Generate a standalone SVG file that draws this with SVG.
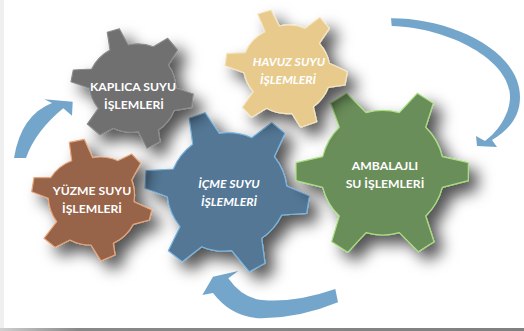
<svg xmlns="http://www.w3.org/2000/svg" width="524" height="331" viewBox="0 0 524 331">
<defs>
<filter id="sh" x="-40%" y="-40%" width="200%" height="200%"><feDropShadow dx="9" dy="9" stdDeviation="7.5" flood-color="#000" flood-opacity="0.68"/></filter>
<linearGradient id="bot" x1="0" x2="1" y1="0" y2="0"><stop offset="0" stop-color="#d0d0d0"/><stop offset="0.15" stop-color="#888"/><stop offset="1" stop-color="#808080"/></linearGradient>
</defs>
<style>
.g{filter:url(#sh);stroke-width:1.2;stroke-linejoin:round}
.t{font-family:"Lato","Open Sans",sans-serif;font-size:12.2px;font-weight:700;fill:#fff;text-anchor:middle}
.i{font-style:italic}
.a{fill:#74a6cc}
</style>
<rect width="524" height="331" fill="#fff"/>
<rect width="4" height="331" fill="#efefef"/>
<rect y="328" width="524" height="3" fill="url(#bot)"/>
<g id="connectors">
<path class="a" d="M14,158Q21,115 52,103L44.3,99.3L72.7,101.7L72,115.7L63.3,108.3Q35.5,131 26,158Z"/>
<path class="a" d="M391,18.3C450,18 520,50 520,97C520,118 508,130 492,140L497,147L477,146L476,136L485,141C500,130 510,112 510,97C510,60 450,28 391.7,26Z"/>
<path class="a" d="M335.3,289Q295,303 262,300Q242,298 228.3,278.3L238.3,271L213,276.7L202.3,295L213,293Q232,318 262,318.3Q300,318 338,302.3Z"/>
</g>
<g id="icme">
<path class="g" fill="#527795" stroke="#7ab5e0" d="M189.3,118.3L205,112.7L219.3,133.3A60,60 0 0 1 251.7,137.7L271.7,122.7L285,133.3L274.3,156.7A60,60 0 0 1 286.7,186L309.3,196L306.7,213.3L281.7,215A60,60 0 0 1 261.7,238.3L265,263.3L249.3,271.7L231.7,250.7A60,60 0 0 1 201.7,246.7L182.3,261.7L168.3,250.7L180,226.7A60,60 0 0 1 167.3,196.7L145,188.3L146,170.7L173.3,169A60,60 0 0 1 192.7,144.3Z"/>
<text class="t i" x="229" y="188">İÇME SUYU</text><text class="t i" x="229" y="206">İŞLEMLERİ</text>
</g>
<g id="kaplica">
<path class="g" fill="#6f6f6f" stroke="#8c8c8c" d="M107.3,32.3L119.3,28.7L128.3,45A43,43 0 0 1 153.3,46.7L167.7,38.3L177.7,50L168.3,65A43,43 0 0 1 175.7,88L193.3,94L191.7,107.3L174,110.7A43,43 0 0 1 158.3,130L160,141.7L147,148.3L138.3,131.7A43,43 0 0 1 113.3,128.3L100,135L87.3,124L98.3,108.3A43,43 0 0 1 89.3,88.3L71,81.7L73.3,70L91.7,69A43,43 0 0 1 110,50Z"/>
<text class="t" x="133" y="91">KAPLICA SUYU</text><text class="t" x="134" y="109">İŞLEMLERİ</text>
</g>
<g id="ambalajli">
<path class="g" fill="#6b8e5a" stroke="#a8e080" d="M330.7,103.3L346.7,93.3L366,112.7A62,62 0 0 1 399.3,112.7L417.3,93.3L433.3,103.3L425.7,127.3A62,62 0 0 1 442.3,156.7L468.3,162.7L468.3,180.7L442.3,187.3A62,62 0 0 1 425.7,216L434,241.7L418.3,251.7L399.3,232.7A62,62 0 0 1 366,232.7L347.7,252.3L331.7,241.7L339.3,216A62,62 0 0 1 322.7,187.3L296,180.7L296,162.7L322.7,156.7A62,62 0 0 1 339.3,127.3Z"/>
<text class="t" x="385" y="170">AMBALAJLI</text><text class="t" x="385" y="188">SU İŞLEMLERİ</text>
</g>
<g id="havuz">
<path class="g" fill="#e8cb8c" stroke="#f5e6c4" d="M257.7,14L271,10L279.3,26A42,42 0 0 1 305,28.3L320,17.3L329.3,28.3L319.3,43.3A42,42 0 0 1 329.3,63.3L347.3,71.7L345,85L328.3,87.3A42,42 0 0 1 313.3,106.7L316.7,121.7L300.7,127.3L291.7,113.3A42,42 0 0 1 266.7,108.3L251.7,117.3L242.3,107.3L253.3,91.7A42,42 0 0 1 244,72.7L225,65.7L226.7,53.3L245,52.7A42,42 0 0 1 265,31.7Z"/>
<text class="t i" x="289" y="66">HAVUZ SUYU</text><text class="t i" x="288" y="84">İŞLEMLERİ</text>
</g>
<g id="yuzme">
<path class="g" fill="#97634a" stroke="#e8a578" d="M69.3,142.3L84.3,139.3L92.7,157.7A43,43 0 0 1 117.7,160.7L131.7,154L140.7,163.3L131.7,180A43,43 0 0 1 134,201.7L151.7,210L149.3,220L133.3,224.3A43,43 0 0 1 113.3,243.3L115,255L101,260.7L91,245A43,43 0 0 1 70,240L55,247.3L44,238.3L56.7,221.7A43,43 0 0 1 48.3,198.3L31.7,191.7L34,177.7L50.7,177.7A43,43 0 0 1 71.7,160.7Z"/>
<text class="t" x="92" y="195">YÜZME SUYU</text><text class="t" x="92" y="213">İŞLEMLERİ</text>
</g>
</svg>
